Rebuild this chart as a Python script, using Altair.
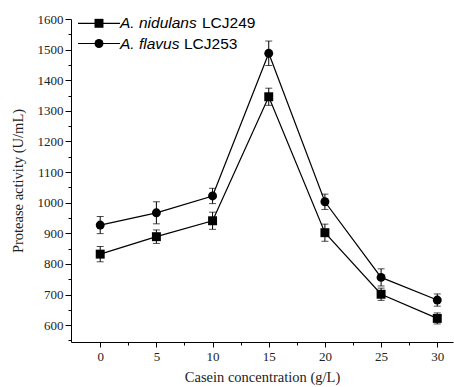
import altair as alt
import pandas as pd

conc = [0, 5, 10, 15, 20, 25, 30]
nidulans = [832, 889, 941, 1346, 902, 701, 622]
nidulans_err = [25, 22, 28, 28, 28, 20, 18]
flavus = [927, 967, 1022, 1488, 1003, 756, 682]
flavus_err = [28, 36, 25, 40, 25, 28, 20]
series_names = ["A. nidulans LCJ249", "A. flavus LCJ253"]
legend_italic = ["A. nidulans", "A. flavus"]
legend_strain = ["LCJ249", "LCJ253"]
shapes = ["square", "circle"]
x_ticks = [0, 2.5, 5, 7.5, 10, 12.5, 15, 17.5, 20, 22.5, 25, 27.5, 30]
y_ticks = list(range(550, 1601, 50))

rows = []
for name, vals, errs in [(series_names[0], nidulans, nidulans_err), (series_names[1], flavus, flavus_err)]:
    for c, v, e in zip(conc, vals, errs):
        rows.append({"series": name, "conc": c, "val": v, "lo": v - e, "hi": v + e})
df = pd.DataFrame(rows)

serif = "Liberation Serif"
sans = "Liberation Sans"

xaxis = alt.Axis(
    values=x_ticks,
    labelExpr="datum.value % 5 === 0 ? datum.label : ''",
    tickSize={"condition": {"test": "datum.value % 5 === 0", "value": 5}, "value": 3},
    grid=False, labelFont=serif, labelFontSize=13, labelColor="#222",
    titleFont=serif, titleFontSize=14.5, titleFontWeight="normal", titleColor="#222",
    titlePadding=7, labelPadding=3, domainColor="black", tickColor="black",
    labelFlush=False,
)
yaxis = alt.Axis(
    values=y_ticks,
    labelExpr="datum.value % 100 === 0 ? datum.label : ''",
    tickSize={"condition": {"test": "datum.value % 100 === 0", "value": 6}, "value": 3},
    grid=False, labelFont=serif, labelFontSize=13, labelColor="#222",
    titleFont=serif, titleFontSize=14.5, titleFontWeight="normal", titleColor="#222",
    titlePadding=12, labelPadding=2, domainColor="black", tickColor="black",
    format="d", labelFlush=False,
)
xscale = alt.Scale(domain=[-2.6, 31.4], nice=False, zero=False)
yscale = alt.Scale(domain=[545, 1600], nice=False, zero=False)
xtitle = "Casein concentration (g/L)"
ytitle = "Protease activity (U/mL)"

def X(f):
    return alt.X(f, type="quantitative", scale=xscale, axis=xaxis, title=xtitle)

def Y(f):
    return alt.Y(f, type="quantitative", scale=yscale, axis=yaxis, title=ytitle)

base = alt.Chart(df)
lines = base.mark_line(color="black", strokeWidth=1.2).encode(x=X("conc"), y=Y("val"), detail="series:N")
bars = base.mark_rule(color="black", strokeWidth=1).encode(x=X("conc"), y=Y("lo"), y2="hi")
cap_lo = base.mark_tick(color="black", orient="horizontal", size=7, thickness=1).encode(x=X("conc"), y=Y("lo"))
cap_hi = base.mark_tick(color="black", orient="horizontal", size=7, thickness=1).encode(x=X("conc"), y=Y("hi"))
points = base.mark_point(filled=True, color="black", opacity=1, size=80).encode(
    x=X("conc"), y=Y("val"),
    shape=alt.Shape("series:N", scale=alt.Scale(domain=series_names, range=shapes), legend=None),
)

one = pd.DataFrame({"a": [0]})
legend_layers = []
for i in range(2):
    yy = [4.3, 24.5][i]
    lb = alt.Chart(one)
    legend_layers.append(lb.mark_rule(color="black", strokeWidth=1.2).encode(
        x=alt.value(7), x2=alt.value(49), y=alt.value(yy)))
    legend_layers.append(lb.mark_point(filled=True, color="black", opacity=1, size=80, shape=shapes[i]).encode(
        x=alt.value(28), y=alt.value(yy)))
    legend_layers.append(lb.mark_text(font=sans, fontSize=15.5, fontStyle="italic", align="left", baseline="middle", color="black").encode(
        x=alt.value(49), y=alt.value(yy), text=alt.value(legend_italic[i])))
    off = [82, 64][i]
    legend_layers.append(lb.mark_text(font=sans, fontSize=15.5, align="left", baseline="middle", color="black").encode(
        x=alt.value(49 + off), y=alt.value(yy), text=alt.value(legend_strain[i])))

chart = alt.layer(lines, bars, cap_lo, cap_hi, points, *legend_layers).properties(
    width=382, height=323,
    autosize=alt.AutoSizeParams(type="none"),
    padding={"left": 71, "top": 19, "right": 1, "bottom": 45},
    background="white",
).configure_view(stroke=None)

chart.save("out.html", embed_options={"renderer": "svg", "actions": False})
